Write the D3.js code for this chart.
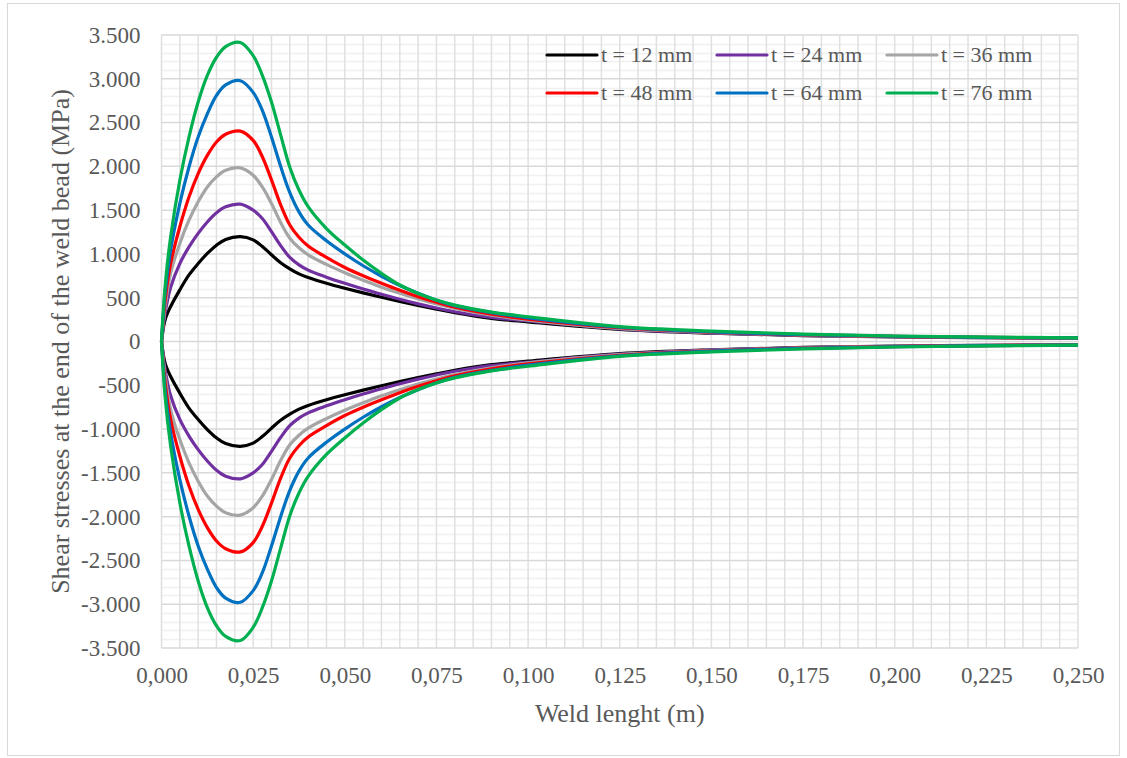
<!DOCTYPE html>
<html>
<head>
<meta charset="utf-8">
<script src="https://cdn.jsdelivr.net/npm/d3@7"></script>
<style>
  html, body { margin: 0; padding: 0; background: #fff; }
  svg text { font-family: "Liberation Serif", "Times New Roman", serif; fill: #595959; }
</style>
</head>
<body>
<div id="chart"></div>
<script>
// weld length (m)
const weldLength = [0, 0.001, 0.0025, 0.005, 0.0075, 0.010, 0.0125, 0.015, 0.0175, 0.0215,
  0.025, 0.0275, 0.030, 0.0325, 0.035, 0.0375, 0.040, 0.045, 0.050, 0.055, 0.060, 0.065,
  0.070, 0.075, 0.080, 0.090, 0.100, 0.125, 0.150, 0.175, 0.200, 0.225, 0.250];

// shear stress (MPa), upper branch
const t12Top = [0, 250, 400, 590, 760, 890, 1005, 1100, 1165, 1197, 1160, 1085, 990, 900, 830, 772, 730, 665, 608, 555, 505, 457, 412, 370, 330, 265, 225, 139, 95, 68, 52, 44, 38];
const t24Top = [0, 330, 620, 890, 1080, 1235, 1365, 1470, 1538, 1568, 1500, 1405, 1255, 1095, 960, 875, 815, 735, 665, 600, 540, 483, 430, 382, 340, 276, 236, 145, 98, 70, 54, 45, 39];
const t36Top = [0, 400, 780, 1120, 1385, 1595, 1765, 1880, 1955, 1982, 1898, 1765, 1575, 1360, 1180, 1070, 990, 880, 785, 700, 620, 550, 485, 428, 378, 300, 245, 150, 102, 72, 56, 46, 40];
const t48Top = [0, 470, 890, 1310, 1650, 1917, 2125, 2278, 2366, 2403, 2296, 2110, 1845, 1560, 1330, 1190, 1090, 960, 845, 750, 665, 585, 512, 448, 392, 312, 256, 157, 106, 75, 58, 47, 41];
const t64Top = [0, 560, 1044, 1576, 1993, 2335, 2600, 2810, 2930, 2978, 2845, 2640, 2335, 2000, 1700, 1480, 1330, 1150, 1000, 865, 745, 640, 550, 472, 410, 330, 270, 163, 110, 78, 60, 48, 42];
const t76Top = [0, 640, 1196, 1842, 2335, 2734, 3038, 3246, 3368, 3415, 3265, 3040, 2735, 2360, 1990, 1730, 1540, 1290, 1101, 930, 778, 645, 549, 473, 416, 335, 283, 169, 118, 85, 63, 50, 42];

// shear stress (MPa), lower branch
const t12Bottom = [0, -250, -400, -590, -760, -890, -1005, -1100, -1165, -1197, -1160, -1085, -990, -900, -830, -772, -730, -665, -608, -555, -505, -457, -412, -370, -330, -265, -225, -139, -95, -68, -52, -44, -38];
const t24Bottom = [0, -330, -620, -890, -1080, -1235, -1365, -1470, -1538, -1568, -1500, -1405, -1255, -1095, -960, -875, -815, -735, -665, -600, -540, -483, -430, -382, -340, -276, -236, -145, -98, -70, -54, -45, -39];
const t36Bottom = [0, -400, -780, -1120, -1385, -1595, -1765, -1880, -1955, -1982, -1898, -1765, -1575, -1360, -1180, -1070, -990, -880, -785, -700, -620, -550, -485, -428, -378, -300, -245, -150, -102, -72, -56, -46, -40];
const t48Bottom = [0, -470, -890, -1310, -1650, -1917, -2125, -2278, -2366, -2403, -2296, -2110, -1845, -1560, -1330, -1190, -1090, -960, -845, -750, -665, -585, -512, -448, -392, -312, -256, -157, -106, -75, -58, -47, -41];
const t64Bottom = [0, -560, -1044, -1576, -1993, -2335, -2600, -2810, -2930, -2978, -2845, -2640, -2335, -2000, -1700, -1480, -1330, -1150, -1000, -865, -745, -640, -550, -472, -410, -330, -270, -163, -110, -78, -60, -48, -42];
const t76Bottom = [0, -640, -1196, -1842, -2335, -2734, -3038, -3246, -3368, -3415, -3265, -3040, -2735, -2360, -1990, -1730, -1540, -1290, -1101, -930, -778, -645, -549, -473, -416, -335, -283, -169, -118, -85, -63, -50, -42];

const seriesNames = ["t = 12 mm", "t = 24 mm", "t = 36 mm", "t = 48 mm", "t = 64 mm", "t = 76 mm"];
const seriesColors = ["#000000", "#7030A0", "#A5A5A5", "#FF0000", "#0070C0", "#00B050"];
const topBranches = [t12Top, t24Top, t36Top, t48Top, t64Top, t76Top];
const bottomBranches = [t12Bottom, t24Bottom, t36Bottom, t48Bottom, t64Bottom, t76Bottom];

const xTicks = [0, 0.025, 0.05, 0.075, 0.1, 0.125, 0.15, 0.175, 0.2, 0.225, 0.25];
const yTicks = d3.range(-3500, 3501, 500);

const width = 1127, height = 758;
const plot = { left: 161.5, right: 1078, top: 35, bottom: 648 };

// comma decimals, dot thousands
const locale = d3.formatLocale({ decimal: ",", thousands: ".", grouping: [3], currency: ["", ""], minus: "-" });
const fmtX = locale.format(".3f");
const fmtY = locale.format(",.0f");

const svg = d3.select("#chart").append("svg")
  .attr("width", width)
  .attr("height", height);

svg.append("rect")
  .attr("width", width).attr("height", height)
  .attr("fill", "#fff");

// chart border
svg.append("rect")
  .attr("x", 7.5).attr("y", 3.5)
  .attr("width", 1112).attr("height", 752)
  .attr("fill", "none")
  .attr("stroke", "#d9d9d9");

const x = d3.scaleLinear().domain([0, 0.25]).range([plot.left, plot.right]);
const y = d3.scaleLinear().domain([-3500, 3500]).range([plot.bottom, plot.top]);

// grid
const grid = svg.append("g");
grid.selectAll(".minor-y")
  .data(d3.range(-3500, 3501, 100).filter(v => v % 500 !== 0))
  .enter().append("line")
  .attr("x1", plot.left).attr("x2", plot.right)
  .attr("y1", d => Math.round(y(d)) + 0.5).attr("y2", d => Math.round(y(d)) + 0.5)
  .attr("stroke", "#f0f0f0").attr("stroke-width", 1.5);
grid.selectAll(".major-x")
  .data(d3.range(0, 51).map(i => i * 0.005))
  .enter().append("line")
  .attr("x1", d => x(d)).attr("x2", d => x(d))
  .attr("y1", plot.top).attr("y2", plot.bottom)
  .attr("stroke", "#e0e0e0").attr("stroke-width", 1.5);
grid.selectAll(".major-y")
  .data(yTicks)
  .enter().append("line")
  .attr("x1", plot.left).attr("x2", plot.right)
  .attr("y1", d => y(d)).attr("y2", d => y(d))
  .attr("stroke", "#d9d9d9").attr("stroke-width", 1.5);

// axes (labels only)
const yAxis = svg.append("g")
  .attr("transform", "translate(" + plot.left + ",0)")
  .call(d3.axisLeft(y).tickValues(yTicks).tickFormat(fmtY).tickSize(0).tickPadding(21));
const xAxis = svg.append("g")
  .attr("transform", "translate(0," + plot.bottom + ")")
  .call(d3.axisBottom(x).tickValues(xTicks).tickFormat(fmtX).tickSize(0).tickPadding(19));
[xAxis, yAxis].forEach(a => {
  a.select(".domain").remove();
  a.selectAll("text")
    .style("font-family", '"Liberation Serif", "Times New Roman", serif')
    .style("font-size", "23px")
    .attr("fill", "#595959");
});

// axis titles
svg.append("text")
  .attr("x", (plot.left + plot.right) / 2)
  .attr("y", 722)
  .attr("text-anchor", "middle")
  .style("font-size", "26px")
  .text("Weld lenght (m)");
svg.append("text")
  .attr("transform", "translate(69," + (plot.top + plot.bottom) / 2 + ") rotate(-90)")
  .attr("text-anchor", "middle")
  .style("font-size", "26px")
  .text("Shear stresses at the end of the weld bead (MPa)");

// curves, smoothed like the spreadsheet lines
const line = d3.line()
  .x((d, i) => x(weldLength[i]))
  .y(d => y(d))
  .curve(d3.curveCatmullRom.alpha(0.5));

const curves = svg.append("g");
seriesNames.forEach((name, s) => {
  [topBranches[s], bottomBranches[s]].forEach(values => {
    curves.append("path")
      .datum(values)
      .attr("d", line)
      .attr("fill", "none")
      .attr("stroke", seriesColors[s])
      .attr("stroke-width", 3.2)
      .attr("stroke-linejoin", "round");
  });
});

// legend
const legendCols = [547, 717, 887], legendRows = [55, 93];
const legend = svg.append("g");
seriesNames.forEach((name, s) => {
  const lx = legendCols[s % 3], ly = legendRows[Math.floor(s / 3)];
  legend.append("line")
    .attr("x1", lx).attr("x2", lx + 50)
    .attr("y1", ly).attr("y2", ly)
    .attr("stroke", seriesColors[s])
    .attr("stroke-width", 3.2)
    .attr("stroke-linecap", "round");
  legend.append("text")
    .attr("x", lx + 54)
    .attr("y", ly)
    .attr("dy", "0.33em")
    .style("font-size", "22px")
    .text(name);
});
</script>
</body>
</html>
